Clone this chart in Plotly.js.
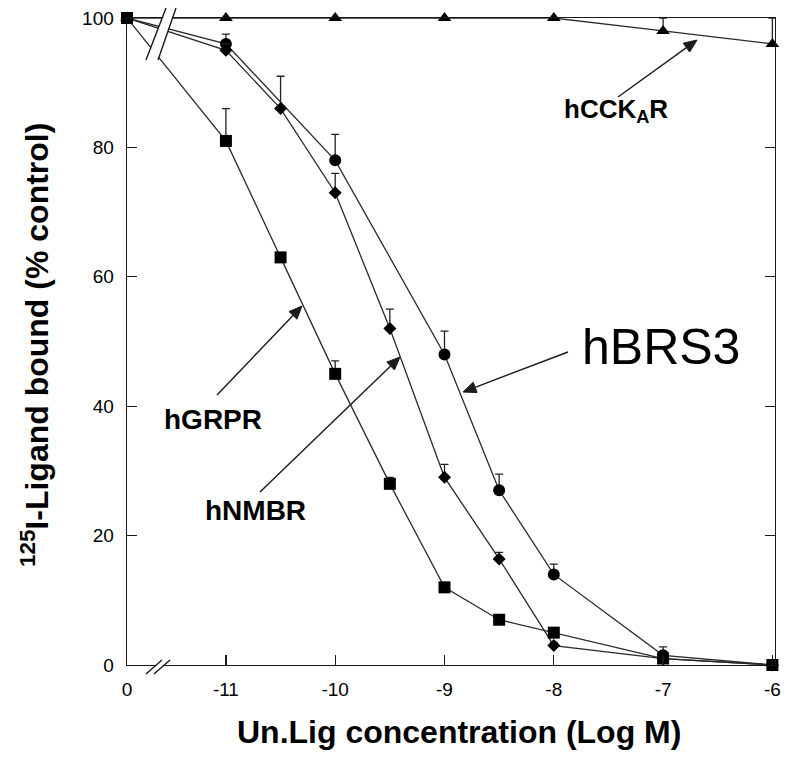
<!DOCTYPE html>
<html>
<head>
<meta charset="utf-8">
<script src="https://cdn.plot.ly/plotly-3.0.1.min.js"></script>
<style>html,body{margin:0;padding:0;background:#fff;}#chart{width:800px;height:761px;}</style>
</head>
<body>
<div id="chart"></div>
<script>
// Position of the "0" (control) point on the broken x axis
const X0 = -11.905;

// x tick positions and labels
const tickVals = [X0, -11, -10, -9, -8, -7, -6];
const tickText = ['0', '-11', '-10', '-9', '-8', '-7', '-6'];

// hCCKAR (triangles)
const cckX = [X0, -11, -10, -9, -8, -7, -6];
const cckY = [100, 100, 100, 100, 100, 98, 96];
const cckErr = [0, 0, 0, 0, 0, 2, 4];

// hBRS3 (circles)
const brsX = [X0, -11, -10, -9, -8.5, -8, -7, -6];
const brsY = [100, 96, 78, 48, 27, 14, 1.5, 0];
const brsErr = [0, 1.5, 4, 3.6, 2.5, 1.6, 1.3, 0];

// hNMBR (diamonds)
const nmbX = [X0, -11, -10.5, -10, -9.5, -9, -8.5, -8, -7, -6];
const nmbY = [100, 95, 86, 73, 52, 29, 16.4, 3, 1, 0];
const nmbErr = [0, 1, 5, 3, 3, 2, 1, 0.5, 0.5, 0];

// hGRPR (squares)
const grpX = [X0, -11, -10.5, -10, -9.5, -9, -8.5, -8, -7, -6];
const grpY = [100, 81, 63, 45, 28, 12, 7, 5, 1, 0];
const grpErr = [0, 5, 0.5, 2, 1, 0.5, 0.5, 0.5, 0.5, 0];

const FONT = 'Liberation Sans, Arial, Helvetica, sans-serif';
const INK = '#1a1a1a';

function series(x, y, err, symbol, size) {
  return {
    type: 'scatter', mode: 'lines+markers', x: x, y: y,
    cliponaxis: false,
    line: {color: '#2a2a2a', width: 1.3},
    marker: {symbol: symbol, size: size, color: '#000'},
    error_y: {type: 'data', symmetric: false, array: err,
      arrayminus: err.map(() => 0), color: '#222', thickness: 1.3, width: 4},
    showlegend: false, hoverinfo: 'skip'
  };
}

const traces = [
  series(cckX, cckY, cckErr, 'triangle-up', 12),
  series(brsX, brsY, brsErr, 'circle', 12),
  series(nmbX, nmbY, nmbErr, 'diamond', 10),
  series(grpX, grpY, grpErr, 'square', 12)
];

// pixel -> paper helpers (plot area 127..775 x 18..665)
const P = px => (px - 127) / 648;
const Q = py => (665 - py) / 647;

function band(pts) {
  return 'M' + pts.map(p => P(p[0]) + ',' + Q(p[1])).join(' L') + ' Z';
}
function seg(a, b, w) {
  return {type: 'line', xref: 'paper', yref: 'paper', layer: 'above',
    x0: P(a[0]), y0: Q(a[1]), x1: P(b[0]), y1: Q(b[1]),
    line: {color: INK, width: w || 1.4}};
}
// arrow drawn as a line plus a filled triangular head
function arrowShapes(head, tail) {
  const dx = head[0] - tail[0], dy = head[1] - tail[1];
  const L = Math.hypot(dx, dy), ux = dx / L, uy = dy / L;
  const hl = 13, hw = 5.5;
  const bx = head[0] - ux * hl, by = head[1] - uy * hl;
  const p1 = [bx - uy * hw, by + ux * hw], p2 = [bx + uy * hw, by - ux * hw];
  return [
    seg(tail, [bx, by], 1.4),
    {type: 'path', xref: 'paper', yref: 'paper', layer: 'above',
     path: band([head, p1, p2]), fillcolor: INK, line: {color: INK, width: 1}}
  ];
}

const shapes = [
  // break on the curves near the top
  {type: 'path', xref: 'paper', yref: 'paper', layer: 'above',
   path: band([[146, 60], [166, 8], [176, 8], [158, 60]]),
   fillcolor: '#fff', line: {width: 0}},
  seg([146, 60], [166, 8]),
  seg([158, 60], [176, 8]),
  // break on the x axis
  {type: 'path', xref: 'paper', yref: 'paper', layer: 'above',
   path: band([[146, 674], [162, 660], [170, 660], [154, 674]]),
   fillcolor: '#fff', line: {width: 0}},
  seg([146, 674], [162, 660]),
  seg([154, 674], [170, 660])
].concat(
  arrowShapes([697, 40], [618, 97]),
  arrowShapes([463, 392], [568, 352]),
  arrowShapes([302, 306], [217, 395]),
  arrowShapes([400, 357], [260, 492])
);

function label(text, px, py, size, xanchor) {
  return {xref: 'paper', yref: 'paper', x: P(px), y: Q(py), text: text,
    showarrow: false, xanchor: xanchor || 'left', yanchor: 'middle',
    font: {family: FONT, size: size, color: '#000'}};
}

const annotations = [
  label('<b>hCCK<sub>A</sub>R</b>', 562, 111, 26),
  label('hBRS3', 580, 347, 50),
  label('<b>hGRPR</b>', 162, 420, 28),
  label('<b>hNMBR</b>', 203, 511, 28),
  label('<b>Un.Lig concentration (Log M)</b>', 459, 732, 32, 'center'),
  Object.assign(label('<b><sup>125</sup>I-Ligand bound (% control)</b>', 35, 345, 32, 'center'), {textangle: -90})
];

const layout = {
  width: 800, height: 761,
  margin: {l: 127, r: 25, t: 18, b: 96},
  paper_bgcolor: '#fff', plot_bgcolor: '#fff',
  font: {family: FONT, size: 18, color: '#000'},
  xaxis: {
    range: [X0, -5.976], tickmode: 'array', tickvals: tickVals, ticktext: tickText,
    showgrid: false, zeroline: false, showline: true, mirror: true,
    linecolor: INK, linewidth: 1.4, ticks: 'inside', ticklen: 10, tickwidth: 1.3,
    tickcolor: INK, ticklabelstandoff: 7,
    tickfont: {family: FONT, size: 19, color: '#000'}
  },
  yaxis: {
    range: [0, 100], tickmode: 'array', tickvals: [0, 20, 40, 60, 80, 100],
    showgrid: false, zeroline: false, showline: true, mirror: 'ticks',
    linecolor: INK, linewidth: 1.4, ticks: 'inside', ticklen: 10, tickwidth: 1.3,
    tickcolor: INK, ticklabelstandoff: 8,
    tickfont: {family: FONT, size: 19, color: '#000'}
  },
  shapes: shapes,
  annotations: annotations
};

Plotly.newPlot('chart', traces, layout, {staticPlot: true, displayModeBar: false});
</script>
</body>
</html>
